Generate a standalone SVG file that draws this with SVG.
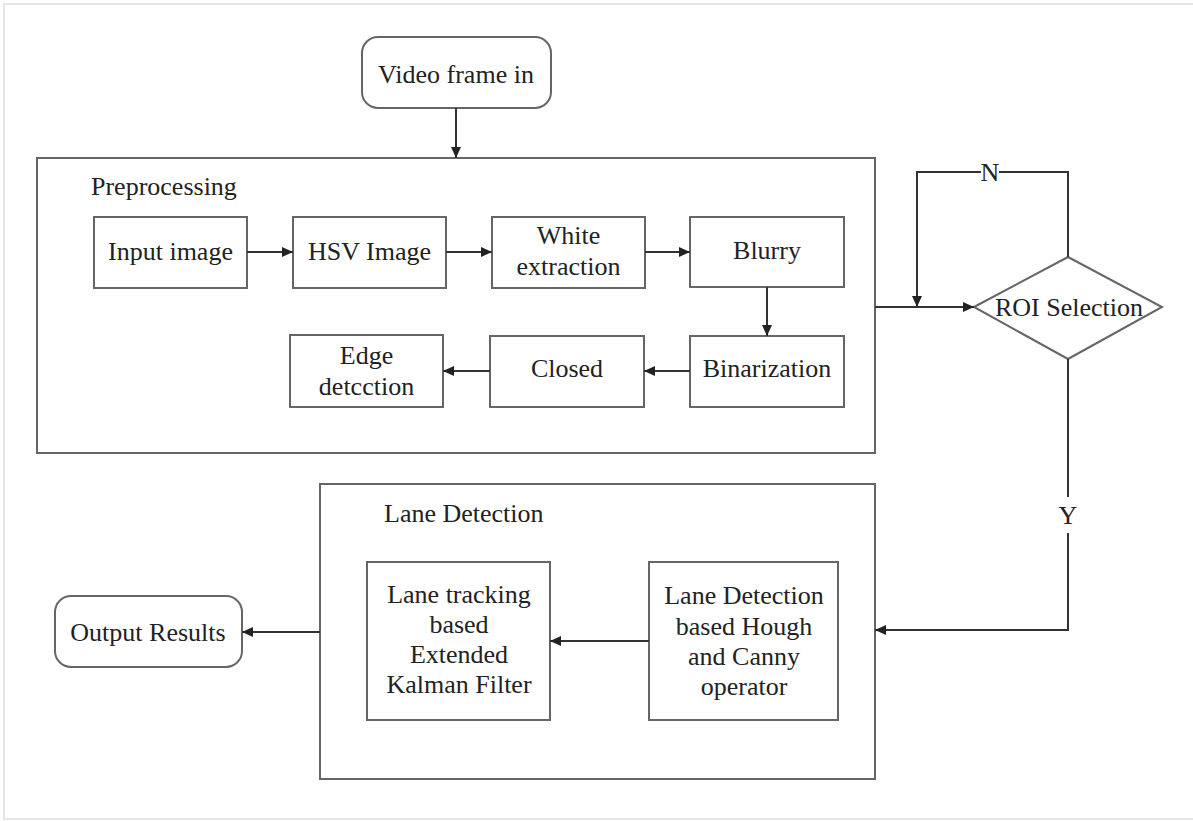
<svg xmlns="http://www.w3.org/2000/svg" width="1193" height="821" viewBox="0 0 1193 821">
<defs>
<style>
.frame{fill:none;stroke:#e6e6e6;stroke-width:2}
.box{fill:#fff;stroke:#666;stroke-width:2}
.group{fill:none;stroke:#666;stroke-width:2}
.conn{fill:none;stroke:#333;stroke-width:2}
text{font-family:"Liberation Serif","Times New Roman",serif;font-size:26px;fill:#222}
.c{text-anchor:middle}
</style>
<marker id="arr" markerUnits="userSpaceOnUse" markerWidth="12" markerHeight="10" refX="11" refY="5" orient="auto">
<path d="M0,0 L11,5 L0,10 z" fill="#222"/>
</marker>
</defs>
<rect width="1193" height="821" fill="#fff"/>
<rect class="frame" x="4" y="4" width="1195" height="815"/>

<g id="preprocessing">
<rect class="group" x="37" y="158" width="838" height="295"/>
<text x="91" y="195">Preprocessing</text>
</g>
<g id="lane-detection-group">
<rect class="group" x="320" y="484" width="555" height="295"/>
<text x="384" y="522">Lane Detection</text>
</g>

<g id="video-frame-in">
<rect class="box" x="362" y="37" width="189" height="71" rx="16"/>
<text class="c" x="456" y="83">Video frame in</text>
</g>
<g id="input-image">
<rect class="box" x="94" y="217" width="153" height="71"/>
<text class="c" x="170.5" y="260">Input image</text>
</g>
<g id="hsv-image">
<rect class="box" x="293" y="217" width="153" height="71"/>
<text class="c" x="369.5" y="260">HSV Image</text>
</g>
<g id="white-extraction">
<rect class="box" x="492" y="217" width="153" height="71"/>
<text class="c" x="568.5" y="244">White</text>
<text class="c" x="568.5" y="275">extraction</text>
</g>
<g id="blurry">
<rect class="box" x="690" y="217" width="154" height="70"/>
<text class="c" x="767" y="259">Blurry</text>
</g>
<g id="binarization">
<rect class="box" x="690" y="336" width="154" height="71"/>
<text class="c" x="767" y="377">Binarization</text>
</g>
<g id="closed">
<rect class="box" x="490" y="336" width="154" height="71"/>
<text class="c" x="567" y="377">Closed</text>
</g>
<g id="edge-detection">
<rect class="box" x="290" y="335" width="153" height="72"/>
<text class="c" x="366.5" y="364">Edge</text>
<text class="c" x="366.5" y="395">detcction</text>
</g>
<g id="roi-selection">
<polygon class="box" points="974,307 1068,257 1162,307 1068,359"/>
<text class="c" x="1069" y="316">ROI Selection</text>
</g>
<g id="lane-tracking">
<rect class="box" x="367" y="562" width="183" height="158"/>
<text class="c" x="459" y="603">Lane tracking</text>
<text class="c" x="459" y="633">based</text>
<text class="c" x="459" y="663">Extended</text>
<text class="c" x="459" y="693">Kalman Filter</text>
</g>
<g id="lane-detection-hough">
<rect class="box" x="649" y="562" width="189" height="158"/>
<text class="c" x="744" y="604">Lane Detection</text>
<text class="c" x="744" y="635">based Hough</text>
<text class="c" x="744" y="665">and Canny</text>
<text class="c" x="744" y="695">operator</text>
</g>
<g id="output-results">
<rect class="box" x="55" y="596" width="187" height="71" rx="16"/>
<text class="c" x="148" y="641">Output Results</text>
</g>

<g id="connectors">
<line class="conn" x1="456" y1="108" x2="456" y2="158" marker-end="url(#arr)"/>
<line class="conn" x1="247" y1="252" x2="293" y2="252" marker-end="url(#arr)"/>
<line class="conn" x1="446" y1="252" x2="492" y2="252" marker-end="url(#arr)"/>
<line class="conn" x1="645" y1="252" x2="690" y2="252" marker-end="url(#arr)"/>
<line class="conn" x1="767" y1="287" x2="767" y2="336" marker-end="url(#arr)"/>
<line class="conn" x1="690" y1="371" x2="644" y2="371" marker-end="url(#arr)"/>
<line class="conn" x1="490" y1="371" x2="443" y2="371" marker-end="url(#arr)"/>
<line class="conn" x1="875" y1="307" x2="974" y2="307" marker-end="url(#arr)"/>
<polyline class="conn" points="1068,257 1068,172 999,172"/>
<polyline class="conn" points="981,172 917,172 917,307" marker-end="url(#arr)"/>
<text class="c" x="990" y="181">N</text>
<line class="conn" x1="1068" y1="359" x2="1068" y2="497"/>
<polyline class="conn" points="1068,533 1068,630 875,630" marker-end="url(#arr)"/>
<text class="c" x="1068" y="524">Y</text>
<line class="conn" x1="649" y1="641" x2="550" y2="641" marker-end="url(#arr)"/>
<line class="conn" x1="320" y1="632" x2="242" y2="632" marker-end="url(#arr)"/>
</g>
</svg>
